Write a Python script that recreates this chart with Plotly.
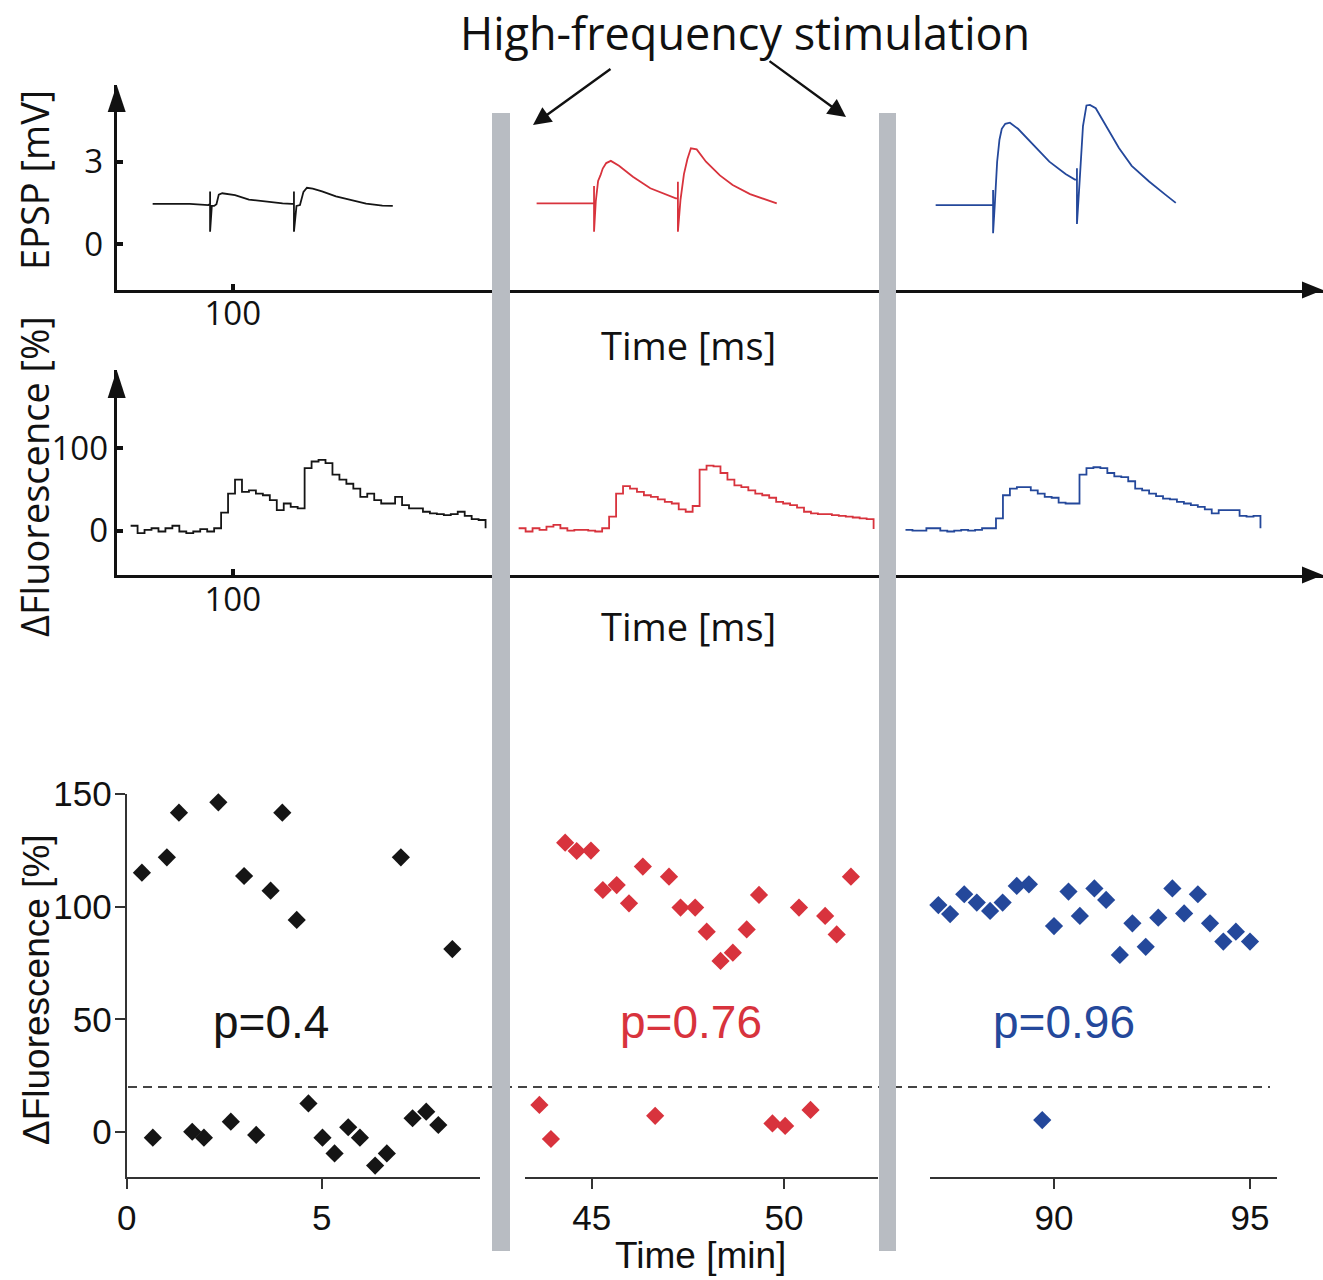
import plotly.graph_objects as go

W, H = 1323, 1280

# ---------------- data ----------------
# EPSP traces (mV) on a shared time base (ms); repeated times are stimulus artifacts
epsp_t = [31, 63, 79, 80.5, 80.5, 80.5, 82, 84, 86, 88, 91, 95, 102, 114, 129, 143, 151,
          152.8, 152.8, 152.8, 155, 158, 161, 164, 169, 177, 189, 200, 215, 229, 238]
epsp_black = [1.46, 1.46, 1.42, 1.46, 1.91, 0.45, 1.39, 1.39, 1.45, 1.80, 1.85, 1.83, 1.78,
              1.62, 1.54, 1.48, 1.46, 1.46, 1.91, 0.45, 1.39, 1.42, 1.90, 2.05, 2.02, 1.92,
              1.74, 1.62, 1.47, 1.40, 1.39]
epsp_red = [1.48, 1.48, 1.48, 1.48, 2.11, 0.45, 1.55, 2.30, 2.50, 2.75, 2.95, 3.03, 2.85,
            2.45, 2.03, 1.80, 1.66, 1.66, 2.27, 0.45, 1.60, 2.55, 3.10, 3.49, 3.45, 3.00,
            2.50, 2.15, 1.82, 1.60, 1.48]
epsp_blue = [1.42, 1.42, 1.42, 1.42, 1.97, 0.39, 1.45, 3.00, 3.80, 4.20, 4.38, 4.42, 4.20,
             3.65, 3.00, 2.55, 2.35, 2.35, 2.76, 0.73, 2.21, 4.30, 5.05, 5.07, 4.95, 4.35,
             3.50, 2.85, 2.28, 1.80, 1.50]
epsp_offsets = [0, 331, 675]          # ms shift of each recording along the axis

# Fluorescence traces (%) on a shared time base (ms)
fluo_t = [12, 18, 24, 30, 36, 42, 48, 54, 60, 66, 72, 78, 84, 90, 96, 102, 108, 114, 120,
          126, 132, 138, 144, 150, 156, 162, 168, 174, 180, 186, 192, 198, 204, 210, 216,
          222, 228, 234, 240, 246, 252, 258, 264, 270, 276, 282, 288, 294, 300, 306, 312, 318]
fluo_black = [6, -3, 1, 3, -1, 3, 6, -1, -3, -1, 2, -1, 3, 22, 45, 62, 47, 49, 45, 43,
              37, 25, 33, 29, 27, 76, 84, 86, 82, 68, 62, 57, 51, 41, 45, 37, 33, 33, 41,
              31, 27, 27, 23, 21, 20, 19, 20, 23, 18, 14, 13, 3]
fluo_red = [3, -1, 3, 1, 5, 7, 3, 0, 1, 1, 0, -1, 3, 17, 45, 54, 51, 47, 43, 41,
            38, 35, 33, 26, 23, 30, 74, 79, 78, 70, 62, 55, 53, 49, 45, 43, 40, 35, 33,
            31, 28, 23, 21, 20, 20, 19, 18, 17, 16, 15, 14, 2]
fluo_blue = [1, 0, 0, 3, 3, 0, -1, 0, 1, 0, 1, 3, 3, 15, 43, 51, 53, 53, 49, 45,
             41, 40, 34, 33, 33, 68, 76, 77, 76, 70, 66, 65, 60, 51, 49, 45, 42, 39, 38,
             35, 33, 31, 29, 26, 21, 25, 25, 25, 18, 17, 18, 3]
fluo_offsets = [0, 334.5, 668]

# Per-stimulus fluorescence change (%) vs time (min)
black_t = [0.39, 0.67, 1.03, 1.34, 1.68, 1.98, 2.35, 2.67, 3.01, 3.32, 3.69, 3.99, 4.36,
           4.66, 5.02, 5.33, 5.68, 5.98, 6.37, 6.67, 7.03, 7.33, 7.68, 7.99, 8.35]
black_f = [115.1, -2.5, 121.9, 141.7, 0.1, -2.5, 146.3, 4.6, 113.6, -1.3, 107.1, 141.7, 94.1,
           12.7, -2.5, -9.5, 2.1, -2.5, -14.9, -9.5, 121.9, 6.1, 9.0, 3.1, 81.2]
red_t = [43.64, 43.94, 44.31, 44.61, 44.98, 45.29, 45.65, 45.97, 46.33, 46.65, 47.01, 47.31,
         47.69, 47.99, 48.35, 48.67, 49.03, 49.35, 49.70, 50.03, 50.39, 50.69, 51.07, 51.37, 51.74]
red_f = [12.0, -3.1, 128.4, 124.7, 124.9, 107.4, 109.6, 101.5, 117.8, 7.2, 113.3, 99.6,
         99.6, 88.9, 75.9, 79.6, 89.9, 105.2, 3.8, 2.7, 99.6, 9.8, 95.9, 87.7, 113.3]
blue_t = [87.05, 87.35, 87.71, 88.03, 88.37, 88.69, 89.05, 89.36, 89.70, 90.00, 90.37, 90.66,
          91.03, 91.33, 91.68, 92.00, 92.34, 92.66, 93.02, 93.32, 93.67, 93.98, 94.32, 94.64, 95.00]
blue_f = [100.7, 96.7, 105.5, 101.8, 98.1, 101.8, 109.2, 109.9, 5.3, 91.4, 106.7, 95.9,
          108.1, 103.0, 78.6, 92.6, 82.2, 95.1, 108.1, 97.0, 105.5, 92.6, 84.5, 88.9, 84.5]
threshold = 20
p_labels = ["p=0.4", "p=0.76", "p=0.96"]

BLACK = "#151515"
RED = "#d8333d"
BLUE = "#24489b"
colors = [BLACK, RED, BLUE]
GREY_BAR = "#b8bcc2"
SANS_A = "Open Sans"
SANS_B = "Liberation Sans, Arial"


# ------------- pixel helpers (layout only) -------------
def px(x):
    return x / W


def py(y):
    return 1 - y / H


def rng(lo_px, hi_px, v0, p0, v1, p1):
    # axis range that puts value v0 at pixel p0 and v1 at p1
    k = (v1 - v0) / (p1 - p0)
    return [v0 + (lo_px - p0) * k, v0 + (hi_px - p0) * k]


fig = go.Figure()

# EPSP traces
for vals, col, off in zip([epsp_black, epsp_red, epsp_blue], colors, epsp_offsets):
    fig.add_trace(go.Scatter(x=[t + off for t in epsp_t], y=vals, mode="lines",
                             line=dict(color=col, width=1.8), xaxis="x", yaxis="y",
                             hoverinfo="skip"))

# fluorescence traces
for vals, col, off in zip([fluo_black, fluo_red, fluo_blue], colors, fluo_offsets):
    fig.add_trace(go.Scatter(x=[t + off for t in fluo_t], y=vals, mode="lines",
                             line=dict(color=col, width=1.8, shape="hv"),
                             xaxis="x2", yaxis="y2", hoverinfo="skip"))

# scatter panels
for xs, ys, col, xa in [(black_t, black_f, BLACK, "x3"), (red_t, red_f, RED, "x4"),
                        (blue_t, blue_f, BLUE, "x5")]:
    fig.add_trace(go.Scatter(x=xs, y=ys, mode="markers", cliponaxis=False,
                             marker=dict(symbol="diamond", size=14, color=col, line=dict(width=0)),
                             xaxis=xa, yaxis="y3"))

top_axis = dict(showline=True, linecolor="#111", linewidth=3, showgrid=False, zeroline=False,
                ticks="inside", ticklen=6, tickwidth=4, tickcolor="#111", automargin=False,
                tickfont=dict(family=SANS_A, size=33, color="#111"))
bot_axis = dict(showline=True, linecolor="#333", linewidth=2, showgrid=False, zeroline=False,
                ticks="outside", ticklen=10, tickwidth=2, tickcolor="#333", automargin=False,
                tickfont=dict(family=SANS_B, size=35, color="#111"))

ms_range = rng(116.7, W, 0, 116.7, 100, 232.7)
fig.update_layout(
    template="none",
    width=W, height=H, margin=dict(l=0, r=0, t=0, b=0, pad=0),
    paper_bgcolor="white", plot_bgcolor="rgba(0,0,0,0)", showlegend=False,
    xaxis=dict(top_axis, domain=[px(116.7), 1], range=ms_range, tickvals=[100], anchor="y",
               ticklabelstandoff=-8),
    yaxis=dict(top_axis, domain=[py(290), py(85)], range=rng(290, 85, 0, 244, 3, 161.7),
               tickvals=[0, 3], anchor="x", ticklabelstandoff=4),
    xaxis2=dict(top_axis, domain=[px(116.7), 1], range=ms_range, tickvals=[100], anchor="y2",
                ticklabelstandoff=-7),
    yaxis2=dict(top_axis, domain=[py(575), py(370)], range=rng(575, 370, 0, 530.7, 100, 448.3),
                tickvals=[0, 100], anchor="x2", ticklabelstandoff=-1),
    xaxis3=dict(bot_axis, domain=[px(126.7), px(480)], range=rng(126.7, 480, 0, 126.7, 5, 321.7),
                tickvals=[0, 5], anchor="y3", ticklabelstandoff=-1),
    xaxis4=dict(bot_axis, domain=[px(525), px(878)], range=rng(525, 878, 45, 591.7, 50, 784),
                tickvals=[45, 50], anchor="y3", ticklabelstandoff=-1),
    xaxis5=dict(bot_axis, domain=[px(930), px(1277)], range=rng(930, 1277, 90, 1054, 95, 1250),
                tickvals=[90, 95], anchor="y3", ticklabelstandoff=-1),
    yaxis3=dict(bot_axis, domain=[py(1176.7), py(794)], range=rng(1176.7, 794, 0, 1132, 150, 794),
                tickvals=[0, 50, 100, 150], anchor="x3", ticklabelstandoff=-4),
)

shapes = []
# dashed threshold line across all three panels
shapes.append(dict(type="line", xref="paper", yref="y3", x0=px(128), x1=px(1270),
                   y0=threshold, y1=threshold, line=dict(color="#444", width=2, dash="9px,6px")))
# arrowheads on the upper axes
for tip_y, base_y in [(85, 112), (370, 398)]:
    shapes.append(dict(type="path", xref="paper", yref="paper", fillcolor="#111",
                       line=dict(width=0),
                       path=f"M{px(116.7)},{py(tip_y)} L{px(107.7)},{py(base_y)} "
                            f"L{px(125.7)},{py(base_y)} Z"))
for ax_y in [290, 575]:
    shapes.append(dict(type="path", xref="paper", yref="paper", fillcolor="#111",
                       line=dict(width=0),
                       path=f"M{px(1323)},{py(ax_y)} L{px(1302)},{py(ax_y - 8.5)} "
                            f"L{px(1302)},{py(ax_y + 8.5)} Z"))
# grey bars marking the high-frequency stimulation
for x0, x1 in [(492, 510), (879, 896)]:
    shapes.append(dict(type="rect", xref="paper", yref="paper", x0=px(x0), x1=px(x1),
                       y0=py(1251), y1=py(113), fillcolor=GREY_BAR, line=dict(width=0),
                       layer="above"))
fig.update_layout(shapes=shapes)

ann = []


def text(x, y, s, family, size, color="#111", angle=0):
    ann.append(dict(x=px(x), y=py(y), xref="paper", yref="paper", text=s, showarrow=False,
                    font=dict(family=family, size=size, color=color), textangle=angle,
                    xanchor="center", yanchor="middle"))


text(745, 32, "High-frequency stimulation", SANS_A, 45)
text(34, 180, "EPSP [mV]", SANS_A, 38, angle=-90)
text(34, 477, "ΔFluorescence [%]", SANS_A, 38, angle=-90)
text(688, 345, "Time [ms]", SANS_A, 38)
text(688, 626, "Time [ms]", SANS_A, 38)
text(36, 990, "ΔFluorescence [%]", SANS_B, 37, angle=-90)
text(701, 1255, "Time [min]", SANS_B, 37)
for lab, cx, col in zip(p_labels, [271, 691, 1064], colors):
    text(cx, 1022, lab, SANS_B, 46, color=col)

# arrows from the title to the grey bars
for tip, tail in [((533, 125), (612, 68)), ((846, 117), (768, 60))]:
    ann.append(dict(x=px(tip[0]), y=py(tip[1]), xref="paper", yref="paper", text="",
                    showarrow=True, ax=tail[0] - tip[0], ay=tail[1] - tip[1],
                    arrowhead=2, arrowsize=1.5, arrowwidth=2.4, arrowcolor="#111"))
fig.update_layout(annotations=ann)

# drop the page's default body margin so the figure fills the window exactly
fig.write_html("out.html", config={"displayModeBar": False},
               post_script="document.body.style.margin='0';")
